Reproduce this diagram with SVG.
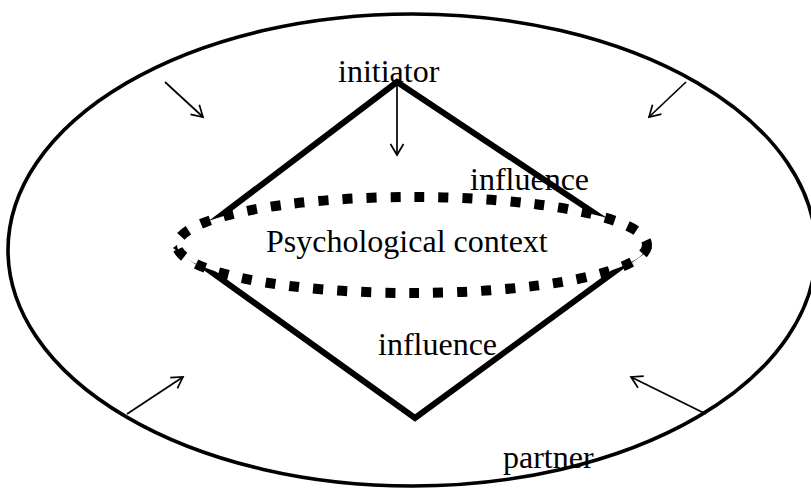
<svg xmlns="http://www.w3.org/2000/svg" width="811" height="488" viewBox="0 0 811 488">
<style>
.lbl{font-family:"Liberation Serif","Times New Roman",serif;font-size:32px;fill:#000}
.arr{stroke:#000;stroke-width:1.7;fill:none;marker-end:url(#ah)}
</style>
<defs>
<marker id="ah" markerUnits="userSpaceOnUse" markerWidth="16" markerHeight="16" refX="12" refY="7" orient="auto" viewBox="0 0 16 14">
<path d="M1,0.5 L12,7 L1,13.5" fill="none" stroke="#000" stroke-width="1.7"/>
</marker>
</defs>
<rect width="811" height="488" fill="#fff"/>
<g id="outer">
<ellipse cx="412" cy="250" rx="404" ry="236" fill="none" stroke="#000" stroke-width="3.6"/>
</g>
<g id="diamond">
<polygon points="397,82 178,248 415,418 647,248" fill="none" stroke="#000" stroke-width="6" stroke-linejoin="miter"/>
</g>
<g id="psych-context">
<ellipse cx="412" cy="245" rx="235" ry="48" fill="#fff" stroke="#000" stroke-width="10" stroke-dasharray="10 14"/>
<text class="lbl" x="266" y="252">Psychological context</text>
</g>
<g id="initiator">
<text class="lbl" x="338" y="82">initiator</text>
</g>
<g id="partner">
<text class="lbl" x="503" y="468">partner</text>
</g>
<g id="influence-top">
<text class="lbl" x="470" y="190">influence</text>
</g>
<g id="influence-bottom">
<text class="lbl" x="378" y="355">influence</text>
</g>
<g id="connectors">
<line class="arr" x1="165" y1="82" x2="203" y2="117"/>
<line class="arr" x1="397" y1="82" x2="397" y2="155"/>
<line class="arr" x1="686" y1="82" x2="649" y2="117"/>
<line class="arr" x1="127" y1="414" x2="183" y2="377"/>
<line class="arr" x1="706" y1="414" x2="631" y2="377"/>
</g>
</svg>
